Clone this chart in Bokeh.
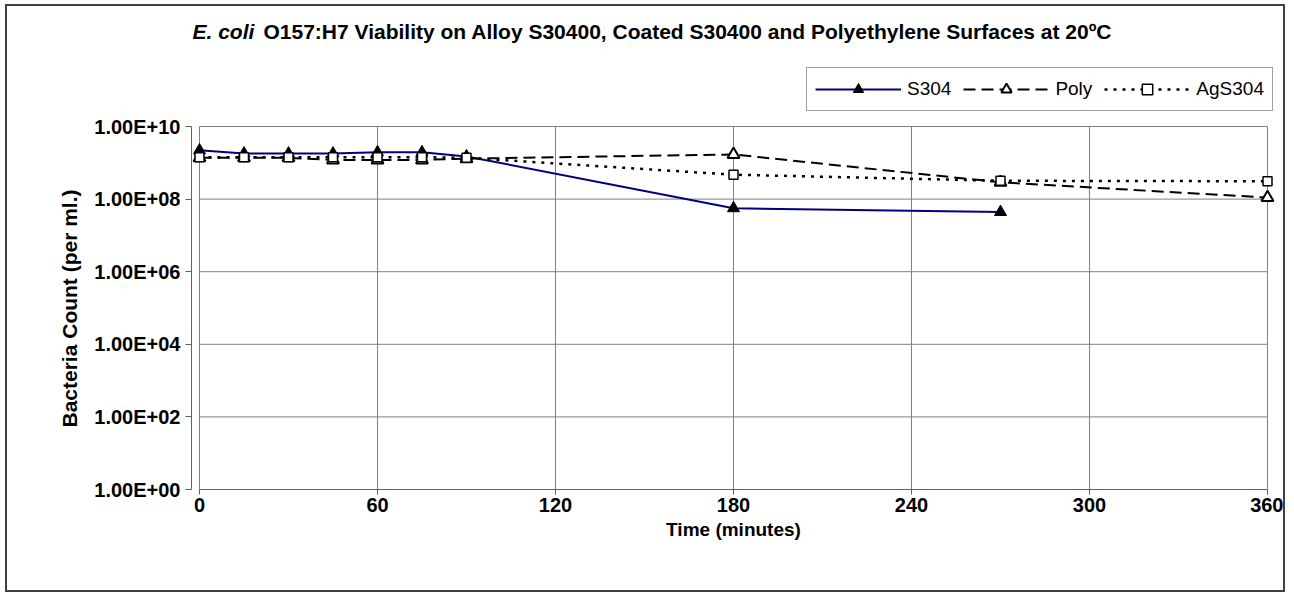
from bokeh.plotting import figure
from bokeh.models import (Range1d, FixedTicker, Legend, LegendItem, Label, Title,
                          CustomJSTickFormatter)
from bokeh.embed import file_html
from bokeh.resources import INLINE

# ---------------- data ----------------
title_italic = "E. coli"
title_rest = "O157:H7 Viability on Alloy S30400, Coated S30400 and Polyethylene Surfaces at 20\u00baC"
x_label = "Time (minutes)"
y_label = "Bacteria Count (per ml.)"

series_names = ["S304", "Poly", "AgS304"]

time_s304 = [0, 15, 30, 45, 60, 75, 90, 180, 270]
count_s304 = [2.2e9, 1.8e9, 1.8e9, 1.8e9, 1.95e9, 1.95e9, 1.5e9, 5.6e7, 4.4e7]

time_poly = [0, 15, 30, 45, 60, 75, 90, 180, 270, 360]
count_poly = [1.37e9, 1.37e9, 1.37e9, 1.2e9, 1.2e9, 1.2e9, 1.3e9, 1.7e9, 2.9e8, 1.1e8]

time_ag = [0, 15, 30, 45, 60, 75, 90, 180, 270, 360]
count_ag = [1.43e9, 1.43e9, 1.43e9, 1.43e9, 1.43e9, 1.43e9, 1.37e9, 4.7e8, 3.2e8, 3.1e8]

x_ticks = [0, 60, 120, 180, 240, 300, 360]
y_ticks = [1e0, 1e2, 1e4, 1e6, 1e8, 1e10]
y_tick_labels = ["1.00E+00", "1.00E+02", "1.00E+04", "1.00E+06", "1.00E+08", "1.00E+10"]

FONT = "Liberation Sans"

# ---------------- layout constants (pixels) ----------------
W, H = 1280, 588
ML, MR, MT, MB = 184, 12, 0, 105          # frame borders
PAD_X = 8                                  # frame padding beyond 0..360 so markers are not cut
frame_w = W - ML - MR
frame_h = H - MT - MB
data_w = frame_w - 2 * PAD_X
px_per_min = data_w / (x_ticks[-1] - x_ticks[0])
x_pad = PAD_X / px_per_min
decades = 10
data_h = 363                               # height of the 1e0..1e10 region
top_decades = (frame_h - data_h) * decades / data_h

p = figure(width=W, height=H, output_backend="svg", toolbar_location=None,
           y_axis_type="log",
           x_range=Range1d(x_ticks[0] - x_pad, x_ticks[-1] + x_pad),
           y_range=Range1d(y_ticks[0], 10 ** (10 + top_decades)),
           min_border_left=ML, min_border_right=MR, min_border_top=MT,
           min_border_bottom=MB, title=None)
p.styles = {"border": "2px solid #404040", "margin": "4px 0 0 5px"}
p.background_fill_color = "white"
p.border_fill_color = "white"
p.outline_line_color = None
p.xgrid.visible = False
p.ygrid.visible = False

# grid lines limited to the data region (drawn from the tick lists)
p.segment(x0=x_ticks, y0=[y_ticks[0]] * len(x_ticks), x1=x_ticks, y1=[y_ticks[-1]] * len(x_ticks),
          line_color="#808080", line_width=1)
p.segment(x0=[x_ticks[0]] * len(y_ticks), y0=y_ticks, x1=[x_ticks[-1]] * len(y_ticks), y1=y_ticks,
          line_color="#808080", line_width=1)

p.xaxis.ticker = FixedTicker(ticks=x_ticks)
p.yaxis.ticker = FixedTicker(ticks=y_ticks)
p.xaxis.bounds = (x_ticks[0], x_ticks[-1])
p.yaxis.bounds = (y_ticks[0], y_ticks[-1])
p.yaxis.formatter = CustomJSTickFormatter(
    args=dict(tvals=y_ticks, tlabels=y_tick_labels),
    code="""
const i = tvals.findIndex(t => Math.abs(Math.log10(t) - Math.log10(tick)) < 1e-6);
return i >= 0 ? tlabels[i] : '';
""")

for ax in (p.xaxis[0], p.yaxis[0]):
    ax.axis_line_color = "#606060"
    ax.axis_line_width = 1
    ax.major_tick_line_color = "#606060"
    ax.major_tick_in = 0
    ax.minor_tick_line_color = None
    ax.major_label_text_font = FONT
    ax.major_label_text_font_style = "bold"
    ax.major_label_text_font_size = "20px"
    ax.major_label_text_color = "black"

p.xaxis.axis_label = x_label
p.xaxis.axis_label_text_font = FONT
p.xaxis.axis_label_text_font_style = "bold"
p.xaxis.axis_label_text_color = "black"
p.xaxis.axis_label_text_font_size = "19px"
p.xaxis.major_tick_out = 5
p.xaxis.major_label_standoff = 3
p.xaxis.axis_label_standoff = 4
p.yaxis.major_tick_out = 6
p.yaxis.major_label_standoff = 5

# y-axis title as a side-panel Title so it can be centred on the 1e0..1e10 part
p.add_layout(Title(text=y_label, align="left", offset=62, standoff=22,
                   text_font=FONT, text_font_style="bold", text_font_size="21px",
                   text_color="black"), "left")

# ---------------- series ----------------
l1 = p.line(time_s304, count_s304, line_color="#000080", line_width=2)
s1 = p.scatter(time_s304, count_s304, marker="triangle", size=12,
               fill_color="black", line_color="black", line_width=1)

l2 = p.line(time_poly, count_poly, line_color="black", line_width=2, line_dash="12 6")
s2 = p.scatter(time_poly, count_poly, marker="triangle", size=12,
               fill_color="white", line_color="black", line_width=2)

l3 = p.line(time_ag, count_ag, line_color="black", line_width=2.5, line_dash="3 6")
s3 = p.scatter(time_ag, count_ag, marker="square", size=9,
               fill_color="white", line_color="black", line_width=1.5)

legend = Legend(items=[LegendItem(label=series_names[0], renderers=[l1, s1]),
                       LegendItem(label=series_names[1], renderers=[l2, s2]),
                       LegendItem(label=series_names[2], renderers=[l3, s3])],
                orientation="horizontal", location=(615, 378),
                label_text_font=FONT, label_text_font_size="19px",
                label_text_color="black",
                glyph_width=86, glyph_height=26, label_height=26,
                label_standoff=6, spacing=12, padding=8, margin=0,
                border_line_color="#404040", border_line_width=1,
                background_fill_color="white", background_fill_alpha=1.0)
p.add_layout(legend)

# ---------------- title (two parts: italic + regular) ----------------
p.add_layout(Label(x=1, y=458, x_units="screen", y_units="screen",
                   text=title_italic, text_font=FONT, text_font_style="bold italic",
                   text_font_size="21px", text_baseline="middle", text_align="left",
                   text_color="black"))
p.add_layout(Label(x=72, y=458, x_units="screen", y_units="screen",
                   text=title_rest, text_font=FONT, text_font_style="bold",
                   text_font_size="21px", text_baseline="middle", text_align="left",
                   text_color="black"))

open("out.html", "w").write(file_html(p, INLINE))
